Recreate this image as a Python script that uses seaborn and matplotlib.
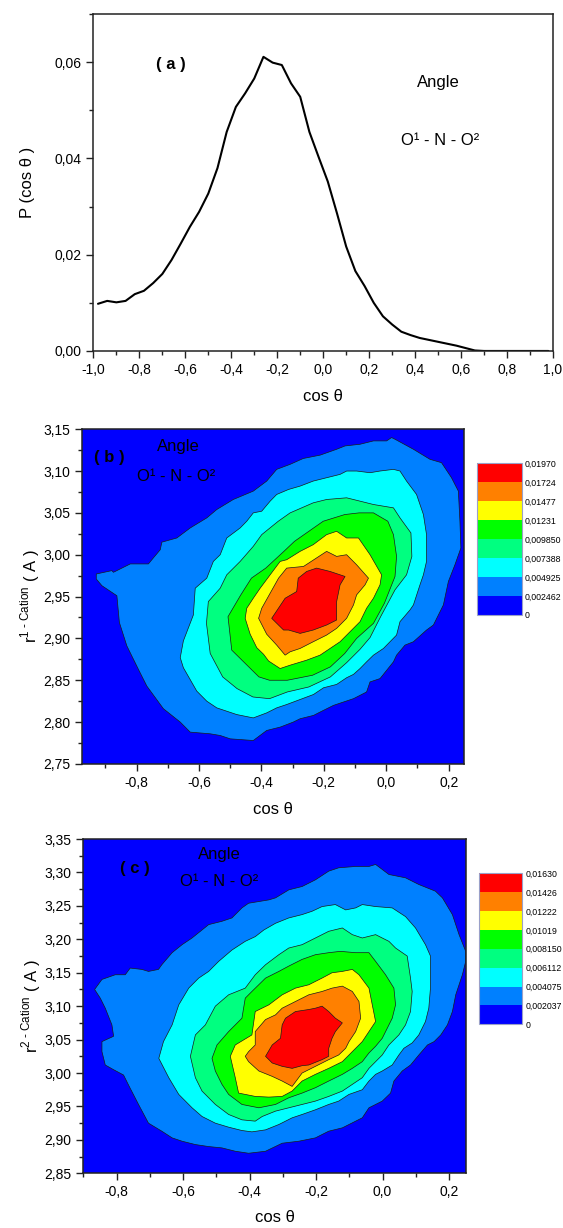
import matplotlib
matplotlib.use("Agg")
import matplotlib.pyplot as plt
import seaborn as sns
from matplotlib.colors import ListedColormap, BoundaryNorm
from matplotlib.cm import ScalarMappable
from matplotlib.ticker import MultipleLocator, FuncFormatter

# -----------------------------
# Data : panel (a)  P(cos theta)
# -----------------------------
cos_theta = [-0.98, -0.94, -0.90, -0.86, -0.82, -0.78, -0.74, -0.70, -0.66, -0.62,
             -0.58, -0.54, -0.50, -0.46, -0.42, -0.38, -0.34, -0.30, -0.26, -0.22,
             -0.18, -0.14, -0.10, -0.06, -0.02, 0.02, 0.06, 0.10, 0.14, 0.18,
             0.22, 0.26, 0.30, 0.34, 0.38, 0.42, 0.46, 0.50, 0.54, 0.58,
             0.62, 0.66, 0.70, 0.74, 0.78, 0.82, 0.86, 0.90, 0.94, 0.98]
p_cos = [0.0098, 0.0104, 0.0101, 0.0104, 0.0118, 0.0125, 0.0141, 0.0160, 0.0189, 0.0223,
         0.0258, 0.0289, 0.0327, 0.0380, 0.0455, 0.0507, 0.0535, 0.0566, 0.0611, 0.0599,
         0.0594, 0.0556, 0.0528, 0.0455, 0.0403, 0.0352, 0.0286, 0.0217, 0.0166, 0.0135,
         0.0100, 0.0072, 0.0055, 0.0040, 0.0033, 0.0027, 0.0023, 0.0019, 0.0015, 0.0011,
         0.0006, 0.0001, 0, 0, 0, 0, 0, 0, 0, 0]

# -----------------------------
# Data : panel (b) contour outlines (cos theta, r) per level
# -----------------------------
b_levels = [0, 0.002462, 0.004925, 0.007388, 0.009850, 0.01231, 0.01477, 0.01724, 0.01970]
b_labels = ["0", "0,002462", "0,004925", "0,007388", "0,009850",
            "0,01231", "0,01477", "0,01724", "0,01970"]

b_lvl1 = [(-0.929, 2.977), (-0.879, 2.981), (-0.874, 2.979), (-0.820, 2.989), (-0.762, 2.989),
          (-0.751, 2.994), (-0.724, 3.006), (-0.719, 3.015), (-0.671, 3.020), (-0.628, 3.032),
          (-0.575, 3.044), (-0.543, 3.054), (-0.490, 3.066), (-0.426, 3.076), (-0.383, 3.088),
          (-0.351, 3.102), (-0.308, 3.108), (-0.266, 3.115), (-0.212, 3.119), (-0.159, 3.126),
          (-0.132, 3.130), (-0.084, 3.132), (-0.041, 3.136), (0.001, 3.136), (0.017, 3.140),
          (0.028, 3.138), (0.087, 3.126), (0.140, 3.114), (0.177, 3.110), (0.209, 3.092),
          (0.231, 3.076), (0.236, 3.040), (0.239, 3.008), (0.220, 2.988), (0.199, 2.968),
          (0.183, 2.940), (0.167, 2.928), (0.151, 2.916), (0.129, 2.910), (0.087, 2.896),
          (0.060, 2.892), (0.033, 2.880), (0.023, 2.872), (-0.020, 2.852), (-0.052, 2.848),
          (-0.063, 2.836), (-0.105, 2.828), (-0.169, 2.820), (-0.212, 2.812), (-0.233, 2.808),
          (-0.276, 2.804), (-0.298, 2.800), (-0.340, 2.794), (-0.383, 2.790), (-0.426, 2.778),
          (-0.500, 2.780), (-0.532, 2.784), (-0.564, 2.786), (-0.628, 2.788), (-0.660, 2.800),
          (-0.714, 2.816), (-0.767, 2.843), (-0.794, 2.863), (-0.831, 2.891), (-0.855, 2.919),
          (-0.863, 2.951), (-0.911, 2.963), (-0.929, 2.971)]
b_lvl2 = [(-0.660, 2.877), (-0.650, 2.897), (-0.618, 2.928), (-0.612, 2.960), (-0.575, 2.972),
          (-0.554, 2.992), (-0.532, 3.000), (-0.511, 3.020), (-0.468, 3.032), (-0.447, 3.040),
          (-0.426, 3.050), (-0.399, 3.052), (-0.372, 3.064), (-0.351, 3.072), (-0.313, 3.078),
          (-0.276, 3.082), (-0.234, 3.088), (-0.191, 3.092), (-0.148, 3.096), (-0.127, 3.100),
          (-0.095, 3.100), (-0.052, 3.098), (-0.020, 3.100), (0.023, 3.102), (0.044, 3.100),
          (0.065, 3.088), (0.097, 3.072), (0.119, 3.048), (0.129, 3.024), (0.129, 2.992),
          (0.119, 2.976), (0.108, 2.964), (0.087, 2.940), (0.076, 2.934), (0.044, 2.920),
          (0.033, 2.904), (0.012, 2.896), (-0.009, 2.888), (-0.041, 2.880), (-0.063, 2.872),
          (-0.084, 2.864), (-0.105, 2.857), (-0.127, 2.853), (-0.159, 2.845), (-0.201, 2.841),
          (-0.233, 2.833), (-0.276, 2.827), (-0.319, 2.821), (-0.351, 2.817), (-0.383, 2.811),
          (-0.426, 2.805), (-0.479, 2.809), (-0.511, 2.813), (-0.543, 2.817), (-0.575, 2.825),
          (-0.607, 2.837), (-0.650, 2.865)]
b_lvl3 = [(-0.576, 2.918), (-0.570, 2.944), (-0.532, 2.960), (-0.511, 2.976), (-0.468, 2.992),
          (-0.426, 3.010), (-0.399, 3.024), (-0.346, 3.040), (-0.308, 3.050), (-0.234, 3.062),
          (-0.191, 3.066), (-0.127, 3.068), (-0.041, 3.060), (0.023, 3.056), (0.044, 3.044),
          (0.079, 3.026), (0.082, 2.998), (0.065, 2.976), (0.028, 2.958), (-0.018, 2.926),
          (-0.052, 2.901), (-0.084, 2.887), (-0.127, 2.871), (-0.179, 2.854), (-0.248, 2.842),
          (-0.317, 2.836), (-0.374, 2.828), (-0.427, 2.830), (-0.478, 2.840), (-0.524, 2.854),
          (-0.564, 2.882)]
b_lvl4 = [(-0.507, 2.926), (-0.466, 2.952), (-0.432, 2.972), (-0.386, 2.984), (-0.328, 3.004),
          (-0.294, 3.016), (-0.248, 3.028), (-0.202, 3.040), (-0.133, 3.048), (-0.087, 3.050),
          (-0.041, 3.050), (0.005, 3.040), (0.023, 3.024), (0.033, 2.998), (0.028, 2.974),
          (-0.006, 2.942), (-0.041, 2.918), (-0.095, 2.900), (-0.133, 2.882), (-0.179, 2.866),
          (-0.236, 2.856), (-0.317, 2.850), (-0.374, 2.850), (-0.408, 2.854), (-0.495, 2.886)]
b_lvl5 = [(-0.452, 2.924), (-0.447, 2.936), (-0.426, 2.948), (-0.404, 2.960), (-0.340, 2.992),
          (-0.319, 2.994), (-0.276, 3.004), (-0.234, 3.012), (-0.191, 3.024), (-0.159, 3.028),
          (-0.127, 3.020), (-0.089, 3.020), (-0.052, 3.000), (-0.015, 2.976), (-0.020, 2.964),
          (-0.041, 2.948), (-0.063, 2.936), (-0.084, 2.920), (-0.116, 2.908), (-0.148, 2.896),
          (-0.180, 2.888), (-0.212, 2.880), (-0.255, 2.874), (-0.308, 2.868), (-0.340, 2.864),
          (-0.377, 2.873), (-0.393, 2.881), (-0.415, 2.889), (-0.436, 2.905)]
b_lvl6 = [(-0.409, 2.924), (-0.399, 2.936), (-0.345, 2.972), (-0.319, 2.984), (-0.265, 2.986),
          (-0.191, 3.004), (-0.159, 2.998), (-0.127, 3.000), (-0.095, 2.988), (-0.057, 2.972),
          (-0.068, 2.964), (-0.095, 2.952), (-0.105, 2.940), (-0.127, 2.924), (-0.159, 2.912),
          (-0.191, 2.904), (-0.234, 2.896), (-0.276, 2.888), (-0.308, 2.884), (-0.324, 2.880),
          (-0.351, 2.892), (-0.383, 2.905)]
b_lvl7 = [(-0.367, 2.924), (-0.324, 2.948), (-0.287, 2.956), (-0.282, 2.972), (-0.255, 2.980),
          (-0.223, 2.984), (-0.180, 2.980), (-0.132, 2.974), (-0.148, 2.964), (-0.159, 2.944),
          (-0.159, 2.922), (-0.191, 2.916), (-0.234, 2.910), (-0.276, 2.906), (-0.313, 2.910),
          (-0.329, 2.910)]

# -----------------------------
# Data : panel (c) contour outlines
# -----------------------------
c_levels = [0, 0.002037, 0.004075, 0.006112, 0.008150, 0.01019, 0.01222, 0.01426, 0.01630]
c_labels = ["0", "0,002037", "0,004075", "0,006112", "0,008150",
            "0,01019", "0,01222", "0,01426", "0,01630"]

c_lvl1 = [(-0.866, 3.125), (-0.844, 3.140), (-0.804, 3.147), (-0.774, 3.147), (-0.759, 3.157),
          (-0.724, 3.155), (-0.704, 3.152), (-0.674, 3.155), (-0.664, 3.162), (-0.633, 3.180),
          (-0.603, 3.192), (-0.573, 3.202), (-0.548, 3.212), (-0.523, 3.222), (-0.483, 3.227),
          (-0.453, 3.232), (-0.423, 3.247), (-0.403, 3.254), (-0.342, 3.259), (-0.322, 3.262),
          (-0.282, 3.274), (-0.242, 3.279), (-0.202, 3.289), (-0.162, 3.302), (-0.132, 3.307),
          (-0.081, 3.309), (-0.041, 3.309), (-0.021, 3.312), (0.019, 3.297), (0.069, 3.292),
          (0.109, 3.282), (0.159, 3.272), (0.180, 3.262), (0.210, 3.237), (0.230, 3.207),
          (0.250, 3.182), (0.250, 3.167), (0.240, 3.147), (0.220, 3.117), (0.210, 3.092),
          (0.195, 3.072), (0.175, 3.057), (0.155, 3.047), (0.135, 3.042), (0.109, 3.027),
          (0.084, 3.012), (0.059, 3.003), (0.034, 2.988), (0.024, 2.970), (-0.001, 2.958),
          (-0.021, 2.953), (-0.041, 2.948), (-0.061, 2.933), (-0.101, 2.923), (-0.121, 2.918),
          (-0.162, 2.913), (-0.202, 2.903), (-0.252, 2.898), (-0.302, 2.895), (-0.352, 2.883),
          (-0.403, 2.880), (-0.443, 2.883), (-0.483, 2.888), (-0.523, 2.890), (-0.563, 2.893),
          (-0.603, 2.898), (-0.633, 2.903), (-0.664, 2.913), (-0.704, 2.925), (-0.734, 2.953),
          (-0.764, 2.982), (-0.779, 2.997), (-0.809, 3.005), (-0.834, 3.012), (-0.844, 3.032),
          (-0.844, 3.047), (-0.809, 3.055), (-0.814, 3.072), (-0.834, 3.097), (-0.849, 3.112)]
c_lvl2 = [(-0.673, 3.022), (-0.659, 3.047), (-0.633, 3.072), (-0.613, 3.102), (-0.583, 3.127),
          (-0.553, 3.142), (-0.523, 3.152), (-0.493, 3.167), (-0.453, 3.184), (-0.413, 3.197),
          (-0.383, 3.204), (-0.357, 3.214), (-0.322, 3.224), (-0.282, 3.232), (-0.242, 3.237),
          (-0.212, 3.242), (-0.182, 3.249), (-0.142, 3.252), (-0.111, 3.244), (-0.081, 3.247),
          (-0.061, 3.252), (-0.021, 3.249), (0.029, 3.247), (0.069, 3.234), (0.099, 3.217),
          (0.129, 3.192), (0.144, 3.175), (0.144, 3.152), (0.144, 3.127), (0.139, 3.097),
          (0.129, 3.077), (0.109, 3.057), (0.089, 3.045), (0.064, 3.037), (0.049, 3.027),
          (0.029, 3.012), (-0.001, 3.003), (-0.021, 2.998), (-0.041, 2.988), (-0.061, 2.975),
          (-0.101, 2.968), (-0.132, 2.958), (-0.162, 2.953), (-0.202, 2.945), (-0.242, 2.938),
          (-0.272, 2.933), (-0.312, 2.923), (-0.352, 2.915), (-0.393, 2.912), (-0.423, 2.914),
          (-0.463, 2.919), (-0.503, 2.925), (-0.543, 2.935), (-0.573, 2.948), (-0.613, 2.968),
          (-0.643, 2.993)]
c_lvl3 = [(-0.578, 3.025), (-0.563, 3.057), (-0.533, 3.072), (-0.503, 3.100), (-0.463, 3.117),
          (-0.413, 3.127), (-0.383, 3.147), (-0.352, 3.162), (-0.312, 3.177), (-0.282, 3.187),
          (-0.242, 3.192), (-0.202, 3.202), (-0.162, 3.212), (-0.121, 3.217), (-0.091, 3.207),
          (-0.061, 3.202), (-0.021, 3.207), (0.019, 3.197), (0.039, 3.187), (0.074, 3.175),
          (0.084, 3.142), (0.089, 3.122), (0.084, 3.092), (0.069, 3.072), (0.049, 3.057),
          (0.019, 3.042), (-0.001, 3.027), (-0.021, 3.017), (-0.041, 3.007), (-0.061, 2.993),
          (-0.091, 2.983), (-0.121, 2.973), (-0.162, 2.965), (-0.202, 2.958), (-0.242, 2.953),
          (-0.282, 2.948), (-0.322, 2.943), (-0.362, 2.935), (-0.383, 2.928), (-0.423, 2.930),
          (-0.463, 2.938), (-0.503, 2.953), (-0.543, 2.973), (-0.563, 2.993)]
c_lvl4 = [(-0.513, 3.022), (-0.498, 3.042), (-0.463, 3.062), (-0.423, 3.082), (-0.413, 3.112),
          (-0.393, 3.122), (-0.352, 3.142), (-0.312, 3.152), (-0.282, 3.160), (-0.242, 3.170),
          (-0.202, 3.177), (-0.162, 3.180), (-0.127, 3.182), (-0.081, 3.180), (-0.041, 3.180),
          (-0.021, 3.167), (0.009, 3.147), (0.034, 3.127), (0.039, 3.102), (0.029, 3.082),
          (-0.001, 3.052), (-0.021, 3.040), (-0.041, 3.030), (-0.061, 3.017), (-0.091, 3.007),
          (-0.121, 2.998), (-0.162, 2.988), (-0.202, 2.978), (-0.242, 2.970), (-0.282, 2.963),
          (-0.322, 2.953), (-0.372, 2.948), (-0.423, 2.953), (-0.463, 2.968), (-0.483, 2.983),
          (-0.503, 3.003)]
c_lvl5 = [(-0.458, 3.025), (-0.443, 3.042), (-0.393, 3.057), (-0.383, 3.092), (-0.342, 3.102),
          (-0.302, 3.117), (-0.262, 3.127), (-0.222, 3.132), (-0.182, 3.142), (-0.152, 3.150),
          (-0.121, 3.152), (-0.091, 3.155), (-0.071, 3.147), (-0.041, 3.127), (-0.031, 3.102),
          (-0.021, 3.077), (-0.041, 3.062), (-0.061, 3.047), (-0.081, 3.037), (-0.101, 3.027),
          (-0.121, 3.017), (-0.162, 3.007), (-0.202, 2.998), (-0.242, 2.988), (-0.272, 2.973),
          (-0.302, 2.965), (-0.342, 2.964), (-0.383, 2.965), (-0.433, 2.970), (-0.443, 2.993)]
c_lvl6 = [(-0.413, 3.025), (-0.403, 3.032), (-0.383, 3.042), (-0.383, 3.062), (-0.352, 3.080),
          (-0.322, 3.087), (-0.302, 3.097), (-0.262, 3.107), (-0.222, 3.117), (-0.182, 3.122),
          (-0.152, 3.127), (-0.121, 3.130), (-0.091, 3.122), (-0.071, 3.107), (-0.066, 3.082),
          (-0.081, 3.062), (-0.101, 3.047), (-0.111, 3.037), (-0.132, 3.027), (-0.162, 3.020),
          (-0.202, 3.010), (-0.242, 3.000), (-0.272, 2.980), (-0.302, 2.988), (-0.332, 2.995),
          (-0.372, 3.003), (-0.403, 3.017)]
c_lvl7 = [(-0.352, 3.025), (-0.332, 3.042), (-0.307, 3.052), (-0.302, 3.072), (-0.292, 3.082),
          (-0.262, 3.092), (-0.222, 3.095), (-0.202, 3.097), (-0.182, 3.100), (-0.162, 3.092),
          (-0.142, 3.082), (-0.121, 3.075), (-0.142, 3.062), (-0.152, 3.052), (-0.162, 3.037),
          (-0.162, 3.025), (-0.182, 3.020), (-0.222, 3.012), (-0.242, 3.011), (-0.272, 3.007),
          (-0.302, 3.010), (-0.332, 3.015)]

band_colors = ["#0000ff", "#0080ff", "#00ffff", "#00ff80",
               "#00ff00", "#ffff00", "#ff8000", "#ff0000"]

# -----------------------------
# Style
# -----------------------------
sns.set_style("ticks")
plt.rcParams["font.family"] = ["Liberation Sans", "DejaVu Sans"]
plt.rcParams["mathtext.fontset"] = "custom"
plt.rcParams["mathtext.rm"] = "Liberation Sans"
plt.rcParams["axes.edgecolor"] = "#222222"
plt.rcParams["text.color"] = "black"
plt.rcParams["axes.labelcolor"] = "black"
plt.rcParams["xtick.color"] = "#222222"
plt.rcParams["ytick.color"] = "#222222"
plt.rcParams["xtick.labelcolor"] = "black"
plt.rcParams["ytick.labelcolor"] = "black"

comma = lambda nd: FuncFormatter(lambda v, p: f"{v:.{nd}f}".replace(".", ","))

fig = plt.figure(figsize=(5.63, 12.28), dpi=100)


def style_axes(ax, xmaj, xmin, ymaj, ymin, xd, yd):
    ax.xaxis.set_major_locator(MultipleLocator(xmaj))
    ax.xaxis.set_minor_locator(MultipleLocator(xmin))
    ax.yaxis.set_major_locator(MultipleLocator(ymaj))
    ax.yaxis.set_minor_locator(MultipleLocator(ymin))
    ax.xaxis.set_major_formatter(comma(xd))
    ax.yaxis.set_major_formatter(comma(yd))
    ax.tick_params(which="major", direction="out", length=5, width=1,
                   labelsize=10, top=False, right=False)
    ax.tick_params(which="minor", direction="out", length=3, width=1,
                   top=False, right=False)
    for s in ax.spines.values():
        s.set_linewidth(1.1)
        s.set_visible(True)


# ============================================================
# (a) line plot
# ============================================================
ax1 = fig.add_axes([0.1659, 0.7142, 0.8163, 0.2744])
sns.lineplot(x=cos_theta, y=p_cos, ax=ax1, color="black", linewidth=1.5)
ax1.set_xlim(-1.0, 1.0)
ax1.set_ylim(0, 0.07)
style_axes(ax1, 0.2, 0.1, 0.02, 0.01, 1, 2)
ax1.set_xlabel("cos θ", fontsize=12, labelpad=9)
ax1.set_ylabel("P (cos θ )", fontsize=12, labelpad=14)
ax1.text(0.168, 0.849, "( a )", transform=ax1.transAxes, fontsize=12,
         fontweight="bold", ha="center", va="center")
ax1.text(0.75, 0.798, "Angle", transform=ax1.transAxes, fontsize=12,
         ha="center", va="center")
ax1.text(0.754, 0.626, "O¹ - N - O²", transform=ax1.transAxes, fontsize=12,
         ha="center", va="center")


# ============================================================
# contour panels
# ============================================================
def contour_panel(rect, cbar_rect, polys, levels, labels, xlim, ylim,
                  ylab, tag, tag_pos, angle_pos, ono_pos, xpad):
    ax = fig.add_axes(rect)
    ax.set_facecolor(band_colors[0])
    for poly, col in zip(polys, band_colors[1:]):
        xs = [p[0] for p in poly]
        ys = [p[1] for p in poly]
        ax.fill(xs, ys, facecolor=col, edgecolor="#1a1a1a", linewidth=0.5)
    ax.set_xlim(*xlim)
    ax.set_ylim(*ylim)
    style_axes(ax, 0.2, 0.1, 0.05, 0.025, 1, 2)
    ax.set_xlabel("cos θ", fontsize=12, labelpad=xpad)
    ax.set_ylabel(ylab, fontsize=12, labelpad=1)
    ax.text(*tag_pos, tag, transform=ax.transAxes, fontsize=12,
            fontweight="bold", ha="center", va="center", color="black")
    ax.text(*angle_pos, "Angle", transform=ax.transAxes, fontsize=12,
            ha="center", va="center", color="black")
    ax.text(*ono_pos, "O¹ - N - O²", transform=ax.transAxes, fontsize=12,
            ha="center", va="center", color="black")

    cax = fig.add_axes(cbar_rect)
    sm = ScalarMappable(norm=BoundaryNorm(levels, len(band_colors)),
                        cmap=ListedColormap(band_colors))
    cb = fig.colorbar(sm, cax=cax, ticks=levels)
    cb.set_ticklabels(labels)
    cb.ax.tick_params(length=0, labelsize=6.3, pad=2)
    cb.outline.set_edgecolor("#9aa0c8")
    cb.outline.set_linewidth(0.8)
    return ax


contour_panel([0.1455, 0.3779, 0.6792, 0.2726], [0.8467, 0.4992, 0.0799, 0.1235],
              [b_lvl1, b_lvl2, b_lvl3, b_lvl4, b_lvl5, b_lvl6, b_lvl7],
              b_levels, b_labels, (-0.975, 0.25), (2.75, 3.15),
              r"r$^{\text{1 - Cation}}$ ( A )", "( b )",
              (0.072, 0.914), (0.2526, 0.948), (0.246, 0.858), 9)

contour_panel([0.148, 0.04454, 0.6792, 0.2722], [0.8501, 0.1659, 0.0778, 0.1230],
              [c_lvl1, c_lvl2, c_lvl3, c_lvl4, c_lvl5, c_lvl6, c_lvl7],
              c_levels, c_labels, (-0.9, 0.25), (2.85, 3.35),
              r"r$^{\text{2 - Cation}}$ ( A )", "( c )",
              (0.134, 0.913), (0.355, 0.955), (0.355, 0.872), 8)

fig.savefig("out.png", dpi=100)
